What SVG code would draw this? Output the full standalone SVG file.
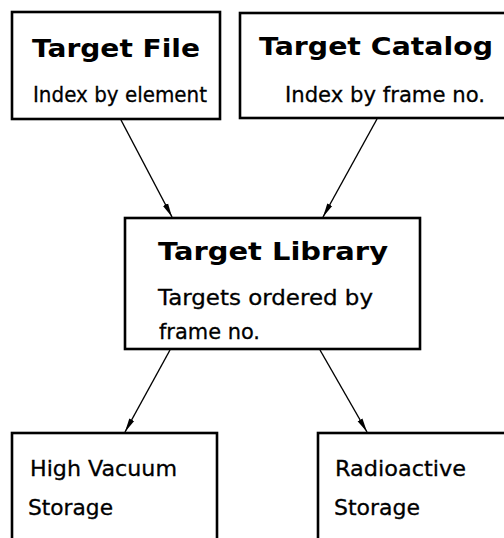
<svg xmlns="http://www.w3.org/2000/svg" width="504" height="538" viewBox="0 0 504 538">
  <style>
    .box { fill: #fff; stroke: #000; stroke-width: 2.6; }
    .title { font-family: "DejaVu Sans", "Liberation Sans", sans-serif; font-weight: bold; font-size: 24px; fill: #000; }
    .body { font-family: "DejaVu Sans", "Liberation Sans", sans-serif; font-size: 21.5px; fill: #000; stroke: #000; stroke-width: 0.3; }
    .link { stroke: #000; stroke-width: 1.4; fill: none; marker-end: url(#arrow); }
  </style>
  <defs>
    <marker id="arrow" markerWidth="15" markerHeight="8" refX="14" refY="4" orient="auto" markerUnits="userSpaceOnUse">
      <path d="M0,1.2 L14,4 L0,6.8 Z" fill="#000"/>
    </marker>
  </defs>
  <rect width="504" height="538" fill="#fff"/>

  <g id="target-file">
    <rect class="box" x="12" y="12" width="208" height="107"/>
    <text class="title" x="32" y="57" textLength="168" lengthAdjust="spacingAndGlyphs">Target File</text>
    <text class="body" x="33" y="102" textLength="174" lengthAdjust="spacingAndGlyphs">Index by element</text>
  </g>

  <g id="target-catalog">
    <rect class="box" x="240" y="13" width="270" height="105"/>
    <text class="title" x="259" y="55" textLength="234" lengthAdjust="spacingAndGlyphs">Target  Catalog</text>
    <text class="body" x="285" y="102" textLength="200" lengthAdjust="spacingAndGlyphs">Index by frame no.</text>
  </g>

  <g id="target-library">
    <rect class="box" x="125" y="218" width="295" height="131"/>
    <text class="title" x="158" y="260" textLength="230" lengthAdjust="spacingAndGlyphs">Target Library</text>
    <text class="body" x="158" y="305" textLength="215" lengthAdjust="spacingAndGlyphs">Targets ordered by</text>
    <text class="body" x="159" y="339" textLength="101" lengthAdjust="spacingAndGlyphs">frame no.</text>
  </g>

  <g id="high-vacuum-storage">
    <rect class="box" x="12" y="433" width="205" height="120"/>
    <text class="body" x="30" y="476" textLength="147" lengthAdjust="spacingAndGlyphs">High Vacuum</text>
    <text class="body" x="28" y="515" textLength="85" lengthAdjust="spacingAndGlyphs">Storage</text>
  </g>

  <g id="radioactive-storage">
    <rect class="box" x="318" y="433" width="190" height="120"/>
    <text class="body" x="335" y="476" textLength="131" lengthAdjust="spacingAndGlyphs">Radioactive</text>
    <text class="body" x="334" y="515" textLength="86" lengthAdjust="spacingAndGlyphs">Storage</text>
  </g>

  <g id="connectors">
    <line class="link" x1="121" y1="120" x2="172" y2="217"/>
    <line class="link" x1="377" y1="119" x2="323" y2="217"/>
    <line class="link" x1="170" y1="350" x2="125" y2="432"/>
    <line class="link" x1="320" y1="350" x2="367" y2="432"/>
  </g>
</svg>
